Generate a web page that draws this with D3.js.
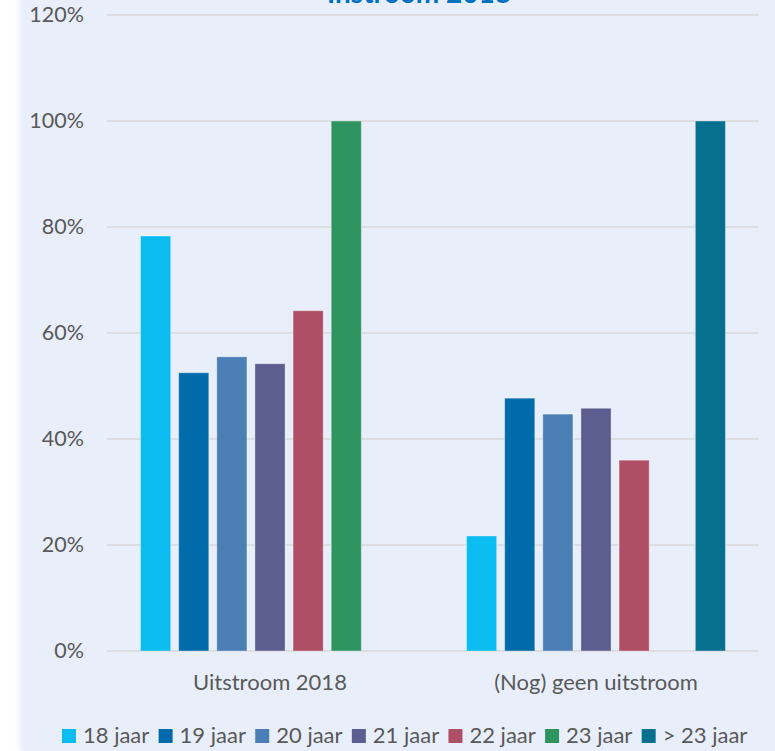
<!DOCTYPE html>
<html>
<head>
<meta charset="utf-8">
<script src="https://cdn.jsdelivr.net/npm/d3@7"></script>
<style>
    body { margin: 0; background: #fff; }
    svg text { font-family: "Source Sans Pro", Lato, "Noto Sans", sans-serif; }
</style>
</head>
<body>
<div id="chart"></div>
<script>
const categories = ["Uitstroom 2018", "(Nog) geen uitstroom"];
const series = ["18 jaar", "19 jaar", "20 jaar", "21 jaar", "22 jaar", "23 jaar", "> 23 jaar"];
const colors = ["#0BBCF0", "#006BAA", "#4A7EB5", "#5D5E90", "#AE4F65", "#2E9460", "#07708F"];
const valuesUitstroom = [78.3, 52.5, 55.5, 54.2, 64.2, 100, 0];
const valuesGeen = [21.7, 47.7, 44.7, 45.8, 36.0, 0, 100];
const yTicks = [0, 20, 40, 60, 80, 100, 120];
const title = "Instroom 2018";

const width = 775;
const height = 751;
const margin = { top: 15, right: 16, bottom: 100, left: 107 };

const svg = d3.select('#chart').append('svg')
    .attr('width', width)
    .attr('height', height);

// panel background with soft edge
const defs = svg.append('defs');
defs.append('filter').attr('id', 'soft')
    .attr('x', '-10%').attr('y', '-10%').attr('width', '120%').attr('height', '120%')
    .append('feGaussianBlur').attr('stdDeviation', 3);

svg.append('rect')
    .attr('x', 19).attr('y', -60)
    .attr('width', 820).attr('height', 845)
    .attr('rx', 45)
    .attr('fill', '#E8EFFA')
    .attr('filter', 'url(#soft)');

const data = categories.map((c, i) => ({
    category: c,
    values: (i === 0 ? valuesUitstroom : valuesGeen).map((v, j) => ({ key: series[j], value: v }))
}));

const x0 = d3.scaleBand()
    .domain(categories)
    .range([margin.left, width - margin.right]);

const x1 = d3.scaleBand()
    .domain(series)
    .range([0, x0.bandwidth()])
    .paddingInner(0.21)
    .paddingOuter(0.88);

const y = d3.scaleLinear()
    .domain([0, 120])
    .range([height - margin.bottom, margin.top]);

const color = d3.scaleOrdinal().domain(series).range(colors);

// gridlines
svg.append('g')
    .selectAll('line')
    .data(yTicks)
    .enter().append('line')
    .attr('x1', margin.left)
    .attr('x2', width - margin.right)
    .attr('y1', d => y(d))
    .attr('y2', d => y(d))
    .attr('stroke', '#D9D9D9')
    .attr('stroke-width', 1.5);

// y axis labels
const yAxis = svg.append('g')
    .attr('transform', `translate(${margin.left - 23},0)`)
    .call(d3.axisLeft(y).tickValues(yTicks).tickFormat(d => d + '%').tickSize(0).tickPadding(0));
yAxis.select('.domain').remove();
yAxis.selectAll('text')
    .attr('fill', '#595959')
    .style('font-size', '21.5px');

// bars
const group = svg.append('g')
    .selectAll('g')
    .data(data)
    .enter().append('g')
    .attr('transform', d => `translate(${x0(d.category)},0)`);

group.selectAll('rect')
    .data(d => d.values.filter(v => v.value > 0))
    .enter().append('rect')
    .attr('x', d => x1(d.key))
    .attr('y', d => y(d.value))
    .attr('width', x1.bandwidth())
    .attr('height', d => y(0) - y(d.value))
    .attr('fill', d => color(d.key))
    .attr('stroke', 'rgba(255,255,255,0.35)')
    .attr('stroke-width', 1);

// category labels
const xAxis = svg.append('g')
    .attr('transform', `translate(0,${y(0)})`)
    .call(d3.axisBottom(x0).tickSize(0).tickPadding(23));
xAxis.select('.domain').remove();
xAxis.selectAll('text')
    .attr('fill', '#595959')
    .style('font-size', '22px');

// title, mostly cut off at the top
svg.append('text')
    .attr('x', 419)
    .attr('y', 3)
    .attr('text-anchor', 'middle')
    .attr('fill', '#0070C0')
    .style('font-size', '28px')
    .style('font-weight', 'bold')
    .text(title);

// legend
const legend = svg.append('g')
    .attr('transform', 'translate(62,729)');

let offset = 0;
series.forEach((s, i) => {
    const item = legend.append('g').attr('transform', `translate(${offset},0)`);
    item.append('rect')
        .attr('width', 14)
        .attr('height', 14)
        .attr('fill', color(s));
    const label = item.append('text')
        .attr('x', 21)
        .attr('y', 14)
        .attr('fill', '#595959')
        .style('font-size', '22px')
        .text(s);
    offset += 21 + label.node().getComputedTextLength() + 9.3;
});
</script>
</body>
</html>
